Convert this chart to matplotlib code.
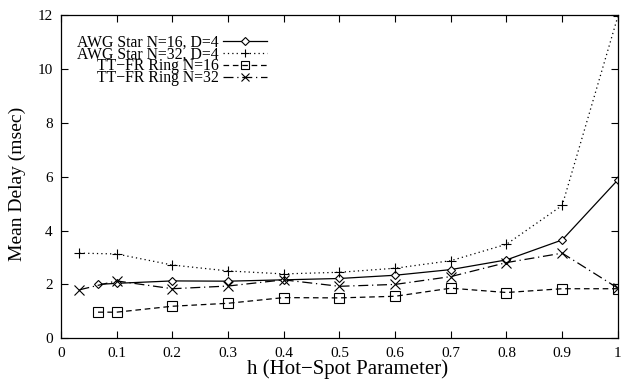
import numpy as np
import matplotlib
matplotlib.use("Agg")
import matplotlib.pyplot as plt

plt.rcParams['font.family'] = ['Liberation Serif', 'DejaVu Serif']
plt.rcParams['font.size'] = 11

# hot-spot parameter values for each configuration
h_awg16 = [0.0667, 0.1, 0.2, 0.3, 0.4, 0.5, 0.6, 0.7, 0.8, 0.9, 1.0]
h_awg32 = [0.0333, 0.1, 0.2, 0.3, 0.4, 0.5, 0.6, 0.7, 0.8, 0.9, 1.0]
h_ring16 = [0.0667, 0.1, 0.2, 0.3, 0.4, 0.5, 0.6, 0.7, 0.8, 0.9, 1.0]
h_ring32 = [0.0333, 0.1, 0.2, 0.3, 0.4, 0.5, 0.6, 0.7, 0.8, 0.9, 1.0]

# mean delays (msec)
d_awg16 = [2.0, 2.04, 2.13, 2.12, 2.17, 2.22, 2.34, 2.55, 2.91, 3.65, 5.88]
d_awg32 = [3.16, 3.13, 2.72, 2.50, 2.39, 2.45, 2.60, 2.88, 3.49, 4.93, 11.95]
d_ring16 = [0.97, 0.97, 1.19, 1.30, 1.51, 1.50, 1.56, 1.86, 1.70, 1.84, 1.84]
d_ring32 = [1.80, 2.13, 1.84, 1.94, 2.17, 1.93, 2.00, 2.29, 2.81, 3.16, 1.86]

labels = ['AWG Star N=16, D=4', 'AWG Star N=32, D=4',
          'TT\u2212FR Ring N=16', 'TT\u2212FR Ring N=32']

fig = plt.figure(figsize=(6.21, 3.81), dpi=100)
ax = fig.add_axes([0.098, 0.112, 0.897, 0.849])

ax.plot(h_awg16, d_awg16, color='black', lw=0.9, ls='-', marker='D',
        ms=4.5, mfc='white', mec='black', mew=0.8, label=labels[0])
ax.plot(h_awg32, d_awg32, color='black', lw=0.9, ls=(0, (1, 2.5)), marker='+',
        ms=6.5, mew=0.8, label=labels[1])
ax.plot(h_ring16, d_ring16, color='black', lw=0.9, ls=(0, (4.5, 3)), marker='s',
        ms=6.5, mfc='none', mec='black', mew=0.8, label=labels[2])
ax.plot(h_ring32, d_ring32, color='black', lw=0.9, ls=(0, (8, 3, 1, 3)), marker='x',
        ms=6.5, mew=0.8, label=labels[3])

ax.set_xlim(0, 1)
ax.set_ylim(0, 12)
ax.set_xticks(np.arange(0, 1.01, 0.1))
ax.set_xticklabels(['0', '0.1', '0.2', '0.3', '0.4', '0.5', '0.6', '0.7', '0.8', '0.9', '1'])
ax.set_yticks(np.arange(0, 13, 2))
ax.tick_params(direction='in', top=True, right=True, length=5, width=0.8, pad=6)
for s in ax.spines.values():
    s.set_linewidth(0.9)

ax.set_xlabel('h (Hot\u2212Spot Parameter)', fontsize=15, labelpad=0, x=0.515)
ax.set_ylabel('Mean Delay (msec)', fontsize=14, labelpad=8, y=0.479)

# gnuplot-style key: labels right-aligned, sample lines to the right
ax.legend(loc='upper left', bbox_to_anchor=(0.012, 0.967), frameon=False,
          markerfirst=False, handlelength=2.8, handletextpad=0.3,
          labelspacing=-0.27, borderaxespad=0.2, fontsize=11.3,
          markerscale=0.8)

fig.savefig('out.png', dpi=100)
